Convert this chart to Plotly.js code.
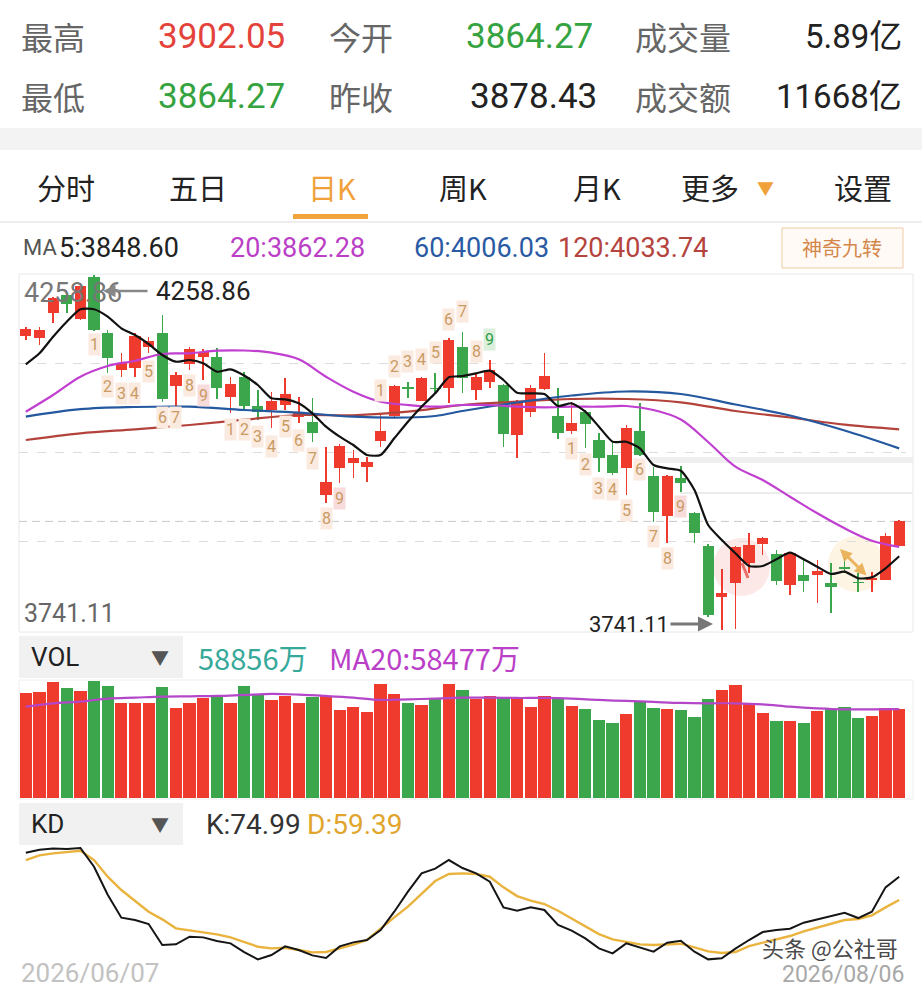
<!DOCTYPE html>
<html><head><meta charset="utf-8">
<script src="https://cdn.plot.ly/plotly-3.0.1.min.js"></script>
<style>html,body{margin:0;padding:0;background:#fff;}#chart{width:922px;height:989px;}</style>
</head><body><div id="chart"></div>
<script>
// ---------- data ----------
const openP  = [4170.3,4166.5,4203.0,4229.7,4194.3,4256.4,4174.7,4120.3,4123.7,4153.4,
                4174.7,4097.0,4128.6,4138.8,4138.8,4081.4,4109.7,4067.8,4062.0,4069.3,
                4052.2,4044.9,3938.0,3976.9,3984.2,3979.3,4017.2,4053.2,4094.8,4075.5,
                4094.5,4093.6,4154.3,4091.1,4103.2,4098.4,4025.5,4059.5,4092.2,4053.2,
                4031.8,4059.5,4018.2,3996.3,3976.9,4031.3,3965.7,3907.8,3962.4,3911.3,
                3863.6,3789.7,3810.1,3838.4,3866.5,3851.9,3806.7,3821.3,3821.3,3810.1,
                3833.0,3811.5,3814.0,3814.0,3864.27];
const highP  = [4183.5,4182.3,4227.2,4232.6,4247.2,4258.86,4178.6,4145.5,4173.8,4168.9,
                4200.5,4117.8,4154.3,4150.5,4152.0,4109.7,4117.4,4091.1,4088.7,4108.2,
                4081.4,4079.0,4007.6,4012.4,4003.6,3993.9,4057.2,4098.4,4103.2,4110.5,
                4116.4,4166.5,4176.2,4115.5,4134.9,4099.5,4076.5,4098.4,4144.7,4093.6,
                4074.1,4062.0,4028.0,4013.4,4040.1,4072.6,3979.3,3967.2,3980.3,3913.6,
                3866.5,3829.6,3863.6,3882.1,3877.2,3857.8,3855.3,3843.2,3843.2,3838.4,
                3846.1,3824.2,3826.1,3882.1,3902.05];
const lowP   = [4164.1,4156.8,4188.4,4203.4,4193.2,4177.2,4115.5,4109.7,4109.7,4144.7,
                4074.1,4066.8,4120.3,4105.7,4077.6,4057.2,4062.0,4047.4,4035.3,4062.0,
                4043.5,4015.7,3925.9,3955.1,3962.4,3957.4,4008.4,4052.2,4079.0,4075.1,
                4086.3,4071.7,4086.3,4076.6,4093.6,4008.4,3991.5,4052.2,4091.1,4019.2,
                4027.0,4006.1,3972.0,3967.2,3938.0,3994.9,3899.1,3867.6,3942.8,3867.6,
                3760.5,3741.11,3742.6,3823.8,3850.5,3806.7,3792.1,3797.0,3780.0,3765.5,
                3824.2,3797.0,3797.0,3813.3,3864.27];
const closeP = [4179.7,4178.9,4224.9,4216.1,4242.8,4178.6,4137.4,4131.0,4170.3,4163.0,
                4077.6,4112.6,4151.4,4147.0,4093.6,4099.9,4067.1,4059.5,4075.5,4084.9,
                4058.0,4028.0,3957.4,4009.5,3991.5,3986.6,4031.3,4097.0,4092.6,4109.1,
                4092.6,4164.1,4108.2,4110.5,4120.3,4027.0,4075.5,4093.6,4111.6,4028.9,
                4042.6,4041.6,3991.5,3969.6,4035.3,3996.3,3913.6,3965.7,3955.1,3882.1,
                3763.0,3795.5,3862.6,3865.1,3874.8,3813.0,3853.8,3813.0,3827.2,3804.3,
                3830.1,3809.6,3816.5,3878.43,3899.5];
const volume = [68922,70016,76580,72204,70672,77018,73954,62796,62358,62796,
                73298,59076,62358,66078,66734,62796,73736,67828,64546,67172,
                62796,66734,67172,57982,60170,56888,74830,68484,62358,61264,
                65640,74830,71110,64984,67172,66296,65640,60170,67390,65640,
                60608,58857,51418,49668,55356,63890,59076,58420,57982,53606,
                65421,71110,74392,62358,56232,50980,50762,49668,57544,58420,
                59732,52512,54262,59076,58856];
const ma5 = [4128.62,4144.67,4168.87,4190.76,4208.84,4208.84,4198.04,4181.12,4171.35,4158.23,
             4142.18,4132.41,4134.89,4130.08,4117.83,4121.32,4112.28,4098.43,4079.03,4077.57,
             4071.74,4057.15,4037.61,4023.02,4010.92,3996.33,3996.33,4020.69,4044.90,4066.78,
             4086.32,4109.66,4111.55,4115.49,4119.29,4105.72,4087.20,4086.32,4085.30,4067.80,
             4071.74,4059.49,4037.61,4015.73,4015.73,4006.03,3981.75,3976.93,3973.43,3945.28,
             3894.24,3872.36,3852.96,3834.44,3834.44,3844.21,3853.84,3844.21,3833.42,3822.77,
             3826.13,3816.50,3817.96,3831.08,3848.60];
const ma20Idx = [0,2,4,6,8,10,12,14,16,18,20,22,24,26,28,30,32,34,36,38,40,42,44,46,48,50,52,54,56,58,60,62,64];
const ma20 = [4059.49,4083.84,4110.53,4126.14,4133.87,4143.64,4144.67,4148.45,4148.75,4145.54,
              4135.91,4110.53,4088.66,4074.07,4069.26,4066.78,4069.26,4069.26,4066.78,4065.90,
              4066.78,4066.78,4067.80,4061.96,4048.11,4015.29,3979.27,3959.87,3935.51,3911.30,
              3889.42,3871.34,3862.28];
const ma60Idx = [0,4,8,12,16,20,24,28,30,32,34,36,40,44,48,52,56,60,64];
const ma60 = [4052.19,4063.13,4066.34,4066.78,4061.96,4058.03,4052.19,4051.03,4053.21,4060.51,
              4067.07,4072.90,4083.12,4088.92,4085.30,4069.99,4053.95,4032.07,4006.03];
const ma120Idx = [0,4,8,12,16,20,24,28,32,36,40,44,48,52,56,60,64];
const ma120 = [4018.21,4027.98,4033.82,4040.09,4047.81,4054.67,4054.23,4059.49,4069.26,4074.07,
               4078.01,4078.01,4073.19,4060.51,4051.03,4040.53,4033.74];
const volMaIdx = [0,2,4,6,8,10,12,14,16,18,20,22,24,26,28,30,32,34,36,38,40,42,44,46,48,50,52,54,56,58,60,62,64];
const volMa20 = [60170,62358,63452,65421,66078,66734,66953,67172,67828,68484,
                 68047,67172,66078,64546,64984,65421,66078,66078,65859,65859,
                 65421,64546,63890,63233,62577,62358,62358,61702,60170,59076,
                 58420,58420,58477];
const kLine = [91.05,93.06,93.95,93.5,94.18,81.68,62.94,47.55,45.99,43.31,
               29.25,29.7,34.83,34.38,31.93,30.37,24.57,19.66,22.56,28.36,
               25.9,22.33,20.55,28.36,31.04,32.6,39.29,51.56,64.95,77.22,
               80.34,86.15,80.79,77.22,71.64,54.46,52.23,54.46,52.68,42.64,
               38.85,33.71,27.02,23.67,30.37,27.69,24.79,30.81,32.15,24.79,
               19.66,20.33,26.8,32.6,37.95,39.29,40.18,44.2,46.43,48.66,
               50.89,47.32,51.56,67.85,74.99];
const dLine = [86.15,89.27,90.61,91.5,92.39,86.15,74.99,66.07,58.93,51.56,
               46.43,40.41,39.07,37.73,36.39,34.38,31.04,28.14,27.02,27.47,
               25.9,24.34,24.57,26.8,29.48,32.6,40.41,47.77,54.91,63.83,
               72.09,76.77,77.22,76.77,74.99,67.85,62.05,58.93,56.7,52.23,
               47.1,41.52,36.61,33.04,31.48,29.7,29.25,29.48,30.14,27.69,
               25.01,23.9,24.57,28.58,30.81,32.6,35.28,38.4,41.08,43.75,
               45.99,46.66,49.11,54.46,59.39];
// "神奇九转" counters: candle index, price level, number
const tdIdx   = [5,6,7,8,9,10,11,12,13, 15,16,17,18,19,20,21,22,23, 26,27,28,29,30,31,32,33,34, 40,41,42,43,44,45,46,47,48];
const tdPrice = [4156.8,4096.0,4085.3,4085.3,4118.8,4050.3,4050.3,4098.4,4083.8,
                 4032.8,4032.8,4023.0,4008.4,4038.6,4018.2,3991.5,3904.0,3933.2,
                 4091.1,4126.1,4132.4,4134.9,4145.5,4194.3,4205.3,4147.0,4165.1,
                 4006.1,3981.8,3947.8,3945.3,3916.1,3974.5,3877.2,3845.7,3920.9];
const tdNum   = [1,2,3,4,5,6,7,8,9, 1,2,3,4,5,6,7,8,9, 1,2,3,4,5,6,7,8,9, 1,2,3,4,5,6,7,8,9];
const tdBuy   = [0,0,0,0,0,0,0,0,0, 0,0,0,0,0,0,0,0,0, 1,1,1,1,1,1,1,1,1, 0,0,0,0,0,0,0,0,0];
const hiVal = 4258.86, loVal = 3741.11;
const header = {high:'3902.05', open:'3864.27', vol:'5.89亿', low:'3864.27', prev:'3878.43', amt:'11668亿'};
const maText = {ma5:'5:3848.60', ma20:'20:3862.28', ma60:'60:4006.03', ma120:'120:4033.74'};
const volText = {v:'58856万', ma:'MA20:58477万'};
const kdText = {k:'K:74.99', d:'D:59.39'};

// ---------- build ----------
const W=922,H=989;
const px=x=>x/W, py=y=>1-y/H;
const N=openP.length;
const idx=Array.from({length:N},(_,i)=>i);
const RED='#ef3b2d', GREEN='#3ba64b';
const col=idx.map(i=>closeP[i]>=openP[i]?RED:GREEN);
const bodyBase=idx.map(i=>Math.min(openP[i],closeP[i]));
const bodyH=idx.map(i=>Math.max(Math.abs(closeP[i]-openP[i]),1.7));
const wickH=idx.map(i=>highP[i]-lowP[i]);

const traces=[
 {type:'bar',x:idx,base:lowP,y:wickH,width:0.11,marker:{color:col,line:{width:0}},yaxis:'y',hoverinfo:'skip'},
 {type:'bar',x:idx,base:bodyBase,y:bodyH,width:0.82,marker:{color:col,line:{width:0}},yaxis:'y',hoverinfo:'skip'},
 {type:'scatter',mode:'lines',x:ma120Idx,y:ma120,line:{color:'#b3423b',width:2.2,shape:'spline'},yaxis:'y'},
 {type:'scatter',mode:'lines',x:ma60Idx,y:ma60,line:{color:'#24589f',width:2.2,shape:'spline'},yaxis:'y'},
 {type:'scatter',mode:'lines',x:ma20Idx,y:ma20,line:{color:'#c13fd0',width:2.2,shape:'spline'},yaxis:'y'},
 {type:'scatter',mode:'lines',x:idx,y:ma5,line:{color:'#111111',width:2.2,shape:'spline',smoothing:0.6},yaxis:'y'},
 {type:'bar',x:idx,y:volume,width:0.9,marker:{color:col,line:{width:0}},yaxis:'y2'},
 {type:'scatter',mode:'lines',x:volMaIdx,y:volMa20,line:{color:'#b447c9',width:2.2,shape:'spline'},yaxis:'y2'},
 {type:'scatter',mode:'lines',x:idx,y:dLine,line:{color:'#e9b33e',width:2.4},yaxis:'y3'},
 {type:'scatter',mode:'lines',x:idx,y:kLine,line:{color:'#151515',width:2},yaxis:'y3'}
];

const q=(hiVal-loVal)/4;
const F='Roboto, "Noto Sans CJK SC", sans-serif';
const CJK='"Noto Sans CJK SC", Roboto, sans-serif';
function T(text,x,y,size,color,anchor,family){
  return {xref:'paper',yref:'paper',x:px(x),y:py(y),text:text,showarrow:false,
    xanchor:anchor||'left',yanchor:'middle',font:{size:size,color:color,family:family||CJK}};
}
const ann=[
 T('最高',19,36,32,'#666'), T(header.high,156,36,35,'#e4433b','left',F),
 T('今开',327,36,32,'#666'), T(header.open,464,36,35,'#35a33f','left',F),
 T('成交量',633,36,32,'#666'), T(header.vol,904,36,33,'#222','right',F),
 T('最低',19,96,32,'#666'), T(header.low,156,96,35,'#35a33f','left',F),
 T('昨收',327,96,32,'#666'), T(header.prev,468,96,35,'#222','left',F),
 T('成交额',633,96,32,'#666'), T(header.amt,904,96,33,'#222','right',F),
 T('分时',66,187,29,'#222','center'), T('五日',198,187,29,'#222','center'),
 T('日K',332,187,29,'#f0a13a','center'), T('周K',463,187,29,'#222','center'),
 T('月K',597,187,29,'#222','center'), T('更多',710,187,29,'#222','center'),
 T('▼',765,188,17,'#f0a13a','center'), T('设置',863,187,29,'#222','center'),
 T('MA',21,248,22,'#555','left',F),
 T(maText.ma5,57,248,27,'#222','left',F), T(maText.ma20,228,248,27,'#bb3fc6','left',F),
 T(maText.ma60,412,248,27,'#2a5aa3','left',F), T(maText.ma120,556,248,27,'#b4443d','left',F),
 T('神奇九转',842,248,20,'#d4874a','center'),
 T(hiVal.toFixed(2),22,293,27,'#777','left',F),
 T(loVal.toFixed(2),22,613,25,'#666','left',F),
 T(hiVal.toFixed(2),154,291,26,'#222','left',F),
 {xref:'paper',yref:'paper',x:px(103),y:py(291),ax:46,ay:0,text:'',showarrow:true,arrowhead:2,arrowsize:1,arrowwidth:2.5,arrowcolor:'#888'},
 T(loVal.toFixed(2),587,624,22,'#222','left',F),
 {xref:'paper',yref:'paper',x:px(713),y:py(624),ax:-44,ay:0,text:'',showarrow:true,arrowhead:2,arrowsize:1,arrowwidth:3,arrowcolor:'#777'},
 T('VOL',29,657,26,'#222','left',F), T('▼',160,657,18,'#555','center'),
 T(volText.v,196,657,29,'#37a99b'), T(volText.ma,327,657,29,'#bb40c8'),
 T('KD',29,824,26,'#222','left',F), T('▼',160,824,18,'#555','center'),
 T(kdText.k,204,824,28,'#333','left',F), T(kdText.d,305,824,28,'#e1a52e','left',F),
 T('2026/06/07',19,973,26,'#c2c2c2','left',F),
 T('头条 @公社哥',900,947,22,'#4a4a4a','right'),
 T('2026/08/06',906,974,23,'#a8a8a8','right',F),
 {xref:'paper',yref:'paper',x:px(840),y:py(549),ax:28,ay:28,text:'',showarrow:true,arrowhead:2,arrowside:'end+start',arrowsize:0.8,arrowwidth:3,arrowcolor:'rgba(230,170,70,0.85)'}
];
tdIdx.forEach((k,j)=>{
  const nine=tdNum[j]===9;
  ann.push({xref:'x',yref:'y',x:k,y:tdPrice[j],text:String(tdNum[j]),showarrow:false,
    font:{size:16,family:F,color:tdBuy[j]&&nine?'#2e9e44':'#c99a63'},
    bgcolor:nine?(tdBuy[j]?'#dcefdc':'#f8dcdc'):'#fbeadf',borderpad:1});
});

function R(x0,y0,x1,y1,fill,line){return {type:'rect',xref:'paper',yref:'paper',x0:px(x0),x1:px(x1),y0:py(y1),y1:py(y0),fillcolor:fill||'rgba(0,0,0,0)',line:{width:line?1:0,color:line||'rgba(0,0,0,0)'},layer:'below'};}
const shapes=[
 R(0,128,922,150,'#f3f3f3'),
 R(0,221,922,223,'#eeeeee'),
 R(293,214,368,219,'#f2a43c'),
 R(782,228,903,268,'#fffaf5','#f0c9a4'),
 R(19,274,913,632,null,'#e8e8e8'),
 R(650,457,913,463,'#efefef'),
 R(680,492,913,494,'#ececec'),
 R(19,636,183,678,'#f1f1f1'),
 R(19,680,913,799,null,'#eeeeee'),
 R(19,803,183,845,'#f1f1f1'),
 {type:'line',xref:'paper',yref:'y',x0:px(19),x1:px(913),y0:closeP[N-1],y1:closeP[N-1],line:{color:'#c9c9c9',width:1,dash:'8px,5px'},layer:'below'},
 {type:'circle',xref:'paper',yref:'paper',x0:px(713),x1:px(770),y0:py(596),y1:py(538),fillcolor:'rgba(240,110,110,0.16)',line:{width:0},layer:'below'},
 {type:'circle',xref:'paper',yref:'paper',x0:px(828),x1:px(884),y0:py(592),y1:py(536),fillcolor:'rgba(245,205,130,0.22)',line:{width:0},layer:'below'},
 {type:'line',xref:'paper',yref:'paper',x0:px(742),x1:px(748),y0:py(563),y1:py(578),line:{color:'rgba(230,80,70,0.8)',width:3}}
];

const layout={
 width:W,height:H,margin:{l:0,r:0,t:0,b:0},paper_bgcolor:'#fff',plot_bgcolor:'rgba(0,0,0,0)',
 showlegend:false,barmode:'overlay',bargap:0,
 xaxis:{domain:[px(19),px(906)],range:[-0.5,64.5],showgrid:false,zeroline:false,showticklabels:false,showline:false,fixedrange:true},
 yaxis:{domain:[py(632),py(273)],range:[3738.18,4261.78],tickvals:[hiVal-q,hiVal-2*q,hiVal-3*q],showticklabels:false,
        gridcolor:'#dcdcdc',griddash:'dash',gridwidth:1,zeroline:false,showline:false},
 yaxis2:{domain:[py(798.3),py(680)],range:[0,77652],showgrid:false,zeroline:false,showticklabels:false},
 yaxis3:{domain:[py(968),py(843)],range:[13.88,97.55],showgrid:false,zeroline:false,showticklabels:false},
 annotations:ann,shapes:shapes
};
Plotly.newPlot('chart',traces,layout,{staticPlot:true,displayModeBar:false});
</script></body></html>
